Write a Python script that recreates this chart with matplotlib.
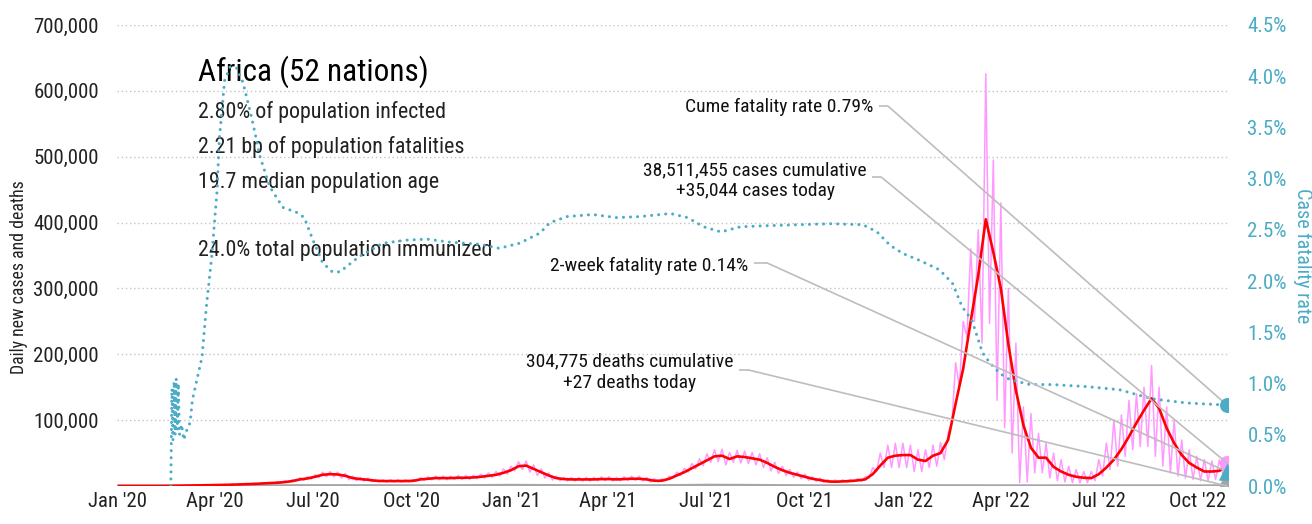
import numpy as np
import pandas as pd
import matplotlib
matplotlib.use("Agg")
import matplotlib.pyplot as plt
import matplotlib.dates as mdates
from matplotlib.ticker import FuncFormatter, MultipleLocator

plt.rcParams["font.family"] = ["Roboto Condensed", "DejaVu Sans"]
plt.rcParams["font.stretch"] = "condensed"

TEAL = "#4bacc6"
PINK = "#ff99ff"
RED = "#ff0000"
GREY = "#a6a6a6"
LINK = "#bdbdbd"

# weekly samples, Fridays, 2020-01-03 .. 2022-10-28 (thousands of cases per day)
week_start = "2020-01-03"
cases_avg = [
    0, 0, 0, 0, 0, 0, 0, 0.2, 0.4, 0.6,
    0.8, 1.0, 1.2, 1.5, 1.7, 2.0, 2.4, 2.8, 3.2, 3.8,
    4.3, 5, 6, 7.5, 10, 11.5, 14, 17, 18, 17.5,
    15.5, 12, 10.5, 9.5, 8, 7.5, 7.5, 7.5, 7.5, 7.8,
    10, 11, 12, 12, 12, 12.5, 12.5, 13, 14, 15.5,
    17, 20, 24, 30, 31, 26, 21, 16, 12, 10.5,
    10, 10, 10, 10, 10.5, 10.5, 10, 10.5, 11, 11,
    10, 8, 8, 11, 16, 21, 27, 33, 39, 45,
    46, 41, 45, 44, 42, 40, 35, 29, 24, 20,
    17, 14, 11, 9, 7, 6.5, 7, 7.5, 8.5, 10,
    18, 31, 43, 46, 47, 47, 40, 38, 46, 50,
    70, 125, 178, 250, 320, 405, 355, 300, 215, 145,
    92, 58, 43, 43, 29, 22, 17, 14, 12.5, 12,
    18, 28, 40, 56, 75, 96, 115, 133, 118, 88,
    65, 47, 35, 28, 22, 22, 23, 32,
]
cases_high = [
    0, 0, 0, 0, 0, 0, 0, 0.4, 0.7, 1.0,
    1.2, 1.5, 1.8, 2.2, 2.5, 2.8, 3.3, 3.8, 4.3, 5.0,
    5.6, 6.5, 7.8, 9.5, 12.5, 14, 17, 21, 22, 21,
    19, 15, 13, 12, 10, 9.5, 9.5, 9.5, 9.5, 10,
    13, 14, 15, 15, 15, 16, 16, 16.5, 18, 20,
    22, 26, 30, 37, 38, 32, 26, 20, 15, 13,
    13, 13, 13, 13, 14, 14, 13, 14, 15, 15,
    13, 11, 11, 15, 21, 27, 34, 41, 49, 55,
    56, 51, 54, 53, 51, 49, 43, 36, 30, 25,
    21, 18, 14, 12, 9.5, 9, 9.5, 10, 11, 14,
    28, 50, 62, 65, 65, 62, 55, 55, 62, 66,
    80, 187, 250, 360, 389, 626, 495, 430, 300, 217,
    120, 110, 80, 65, 50, 40, 30, 25, 22, 22,
    40, 65, 100, 108, 130, 140, 150, 183, 150, 120,
    100, 70, 55, 45, 40, 38, 40, 35.044,
]
cases_low = [
    0, 0, 0, 0, 0, 0, 0, 0, 0.1, 0.3,
    0.5, 0.6, 0.8, 1.0, 1.1, 1.3, 1.6, 1.9, 2.2, 2.6,
    3.0, 3.5, 4.3, 5.5, 7.5, 8.5, 10.5, 13, 14, 14,
    12, 9.5, 8, 7.5, 6.5, 6, 6, 6, 6, 6.2,
    7.5, 8.5, 9.5, 9.5, 9.5, 10, 10, 10, 11, 12,
    13, 15, 18, 23, 25, 21, 16, 12, 9, 8,
    7.5, 7.5, 7.5, 7.5, 8, 8, 7.5, 8, 8.5, 8.5,
    7.5, 6, 6, 8, 12, 16, 21, 26, 31, 36,
    37, 32, 36, 35, 34, 32, 28, 23, 19, 16,
    13, 11, 8.5, 7, 5.5, 5, 5.5, 6, 6.5, 7,
    12, 22, 28, 28, 28, 28, 22, 22, 28, 30,
    40, 95, 150, 226, 250, 217, 247, 130, 89, 50,
    5, 6, 20, 20, 12, 8, 6, 5, 5, 5,
    8, 15, 25, 30, 45, 55, 60, 60, 45, 30,
    20, 15, 12, 10, 8, 8, 10, 15,
]

death_dates = [
    "2020-01-01", "2020-03-01", "2020-04-01", "2020-05-01", "2020-06-01", "2020-07-01",
    "2020-08-01", "2020-09-01", "2020-10-01", "2020-11-01", "2020-12-01", "2021-01-01",
    "2021-02-01", "2021-03-01", "2021-04-01", "2021-05-01", "2021-06-01", "2021-07-01",
    "2021-08-01", "2021-09-01", "2021-10-01", "2021-11-01", "2021-12-01", "2022-01-01",
    "2022-02-01", "2022-03-01", "2022-04-01", "2022-05-01", "2022-06-01", "2022-07-01",
    "2022-08-01", "2022-09-01", "2022-10-01", "2022-10-28",
]
deaths = [
    0, 5, 50, 80, 200, 400, 350, 250, 180, 220, 450, 800,
    500, 300, 250, 230, 400, 950, 800, 450, 200, 120, 200, 400,
    250, 150, 60, 40, 50, 90, 80, 50, 30, 27,
]

cfr_dates = [
    "2020-02-20", "2020-02-21", "2020-02-22", "2020-02-23", "2020-02-24", "2020-02-25",
    "2020-02-26", "2020-02-27", "2020-02-28", "2020-03-01", "2020-03-03", "2020-03-06",
    "2020-03-09", "2020-03-11", "2020-03-20", "2020-03-24", "2020-03-29", "2020-04-03",
    "2020-04-05", "2020-04-10", "2020-04-15", "2020-04-21", "2020-04-27", "2020-05-05",
    "2020-05-13", "2020-05-22", "2020-06-03", "2020-06-16", "2020-06-23", "2020-07-01",
    "2020-07-10", "2020-07-19", "2020-07-26", "2020-08-01", "2020-08-13", "2020-09-04",
    "2020-09-26", "2020-10-15", "2020-11-05", "2020-12-03", "2020-12-21", "2021-01-09",
    "2021-01-28", "2021-02-06", "2021-02-22", "2021-03-18", "2021-04-09", "2021-05-01",
    "2021-05-29", "2021-06-14", "2021-06-29", "2021-07-15", "2021-08-02", "2021-08-24",
    "2021-09-24", "2021-10-25", "2021-11-24", "2021-12-07", "2021-12-19", "2021-12-31",
    "2022-01-16", "2022-02-03", "2022-02-15", "2022-02-24", "2022-03-05", "2022-03-10",
    "2022-03-15", "2022-03-22", "2022-03-31", "2022-04-09", "2022-04-28", "2022-05-19",
    "2022-06-20", "2022-07-20", "2022-08-20", "2022-09-21", "2022-10-28",
]
cfr = [
    0.0, 0.95, 0.45, 1.02, 0.5, 1.05,
    0.55, 1.0, 0.5, 0.6, 0.45, 0.55,
    0.62, 0.84, 1.26, 1.75, 2.24, 2.89,
    3.38, 3.96, 4.09, 4.08, 3.94, 3.6,
    3.21, 2.92, 2.72, 2.67, 2.62, 2.4,
    2.18, 2.09, 2.09, 2.14, 2.24, 2.37,
    2.4, 2.41, 2.38, 2.36, 2.32, 2.37,
    2.47, 2.57, 2.63, 2.65, 2.62, 2.63,
    2.66, 2.62, 2.53, 2.48, 2.53, 2.54,
    2.55, 2.56, 2.55, 2.48, 2.35, 2.27,
    2.2, 2.11, 1.98, 1.75, 1.62, 1.46,
    1.3, 1.2, 1.1, 1.04, 0.99, 0.99,
    0.97, 0.94, 0.85, 0.81, 0.79,
]

cases_total = 38511455
cases_today = 35044
deaths_total = 304775
deaths_today = 27
cfr_cume = 0.79
cfr_2wk = 0.14

region = "Africa (52 nations)"
stats = [
    "2.80% of population infected",
    "2.21 bp of population fatalities",
    "19.7 median population age",
]
immunized = "24.0% total population immunized"

weeks = pd.date_range(week_start, periods=len(cases_avg), freq="7D")
last_day = mdates.date2num(weeks[-1])

# daily reports swing around the weekly average: trough mid-week, peak on the sample day
pink_x = np.empty(2 * len(weeks), dtype="datetime64[ns]")
pink_y = np.empty(2 * len(weeks))
pink_x[0::2] = (weeks - pd.Timedelta(hours=84)).values
pink_x[1::2] = weeks.values
pink_y[0::2] = np.array(cases_low) * 1000
pink_y[1::2] = np.array(cases_high) * 1000

fig = plt.figure(figsize=(13.12, 5.24), dpi=100)
ax = fig.add_axes([117 / 1312, 38 / 524, 1111 / 1312, 461 / 524])
ax2 = ax.twinx()

ax.set_xlim(pd.Timestamp("2020-01-01"), pd.Timestamp("2022-10-29"))
ax.set_ylim(0, 700000)
ax2.set_ylim(0, 4.5)

for a in (ax, ax2):
    for s in a.spines.values():
        s.set_visible(False)
    a.tick_params(length=0)

ax.yaxis.set_major_locator(MultipleLocator(100000))
ax.yaxis.set_major_formatter(FuncFormatter(lambda v, p: "" if v == 0 else f"{v:,.0f}"))
ax.tick_params(axis="y", labelsize=15, pad=13, labelcolor="#222222")
ax.tick_params(axis="x", labelsize=15, pad=4, labelcolor="#222222")
ax.xaxis.set_major_locator(mdates.MonthLocator(bymonth=[1, 4, 7, 10]))
ax.xaxis.set_major_formatter(mdates.DateFormatter("%b '%y"))

ax2.yaxis.set_major_locator(MultipleLocator(0.5))
ax2.yaxis.set_major_formatter(FuncFormatter(lambda v, p: f"{v:.1f}%"))
ax2.tick_params(axis="y", labelsize=15, pad=14, labelcolor=TEAL)

for v in range(100000, 700001, 100000):
    ax.axhline(v, color="#c4c4c4", lw=1, ls=(0, (1, 2)), zorder=1)

ax.set_ylabel("Daily new cases and deaths", fontsize=12.8, color="#222222")
ax.yaxis.set_label_coords(-0.08, 0.453)
ax2.set_ylabel("Case fatality rate", fontsize=14.5, color=TEAL, rotation=270, va="center")
ax2.yaxis.set_label_coords(1.0675, 0.499)

ax.plot(pd.to_datetime(death_dates), deaths, color=GREY, lw=2.4, zorder=2)
ax.plot(pink_x, pink_y, color=PINK, lw=1.1, zorder=3)
ax.plot(weeks, np.array(cases_avg) * 1000, color=RED, lw=1.9, zorder=4)
ax2.plot(pd.to_datetime(cfr_dates), cfr, color=TEAL, lw=2.2, ls=(0, (0.01, 2.3)),
         dash_capstyle="round", zorder=3)

# end-of-series markers
ax.scatter([last_day], [cases_today], s=100, color=PINK, zorder=6)
ax.scatter([last_day], [deaths_today], s=95, color=GREY, zorder=6)
ax2.scatter([last_day], [cfr_cume], s=95, color=TEAL, zorder=6)
ax2.scatter([last_day], [cfr_2wk], s=120, marker="^", color=TEAL, zorder=7)

# summary block
ax.text(0.073, 0.898, region, transform=ax.transAxes, fontsize=22.5, color="#000000",
        va="center", ha="left")
for k, line in enumerate(stats):
    ax.text(0.073, 0.811 - 0.076 * k, line, transform=ax.transAxes, fontsize=15.8,
            color="#222222", va="center", ha="left")
ax.text(0.073, 0.51, immunized, transform=ax.transAxes, fontsize=15.8,
        color="#222222", va="center", ha="left")


def callout(label, tx, ty, sy, stub, target, target_ax):
    ax.text(tx, ty, label, transform=ax.transAxes, fontsize=14, color="#111111",
            ha="right", va="center", multialignment="center", zorder=8)
    x0 = tx + 0.005
    x1 = x0 + stub
    ax.plot([x0, x1], [sy, sy], transform=ax.transAxes, color=LINK, lw=1.2,
            solid_capstyle="butt", zorder=5)
    ax2.annotate("", xy=target, xycoords=target_ax.transData,
                 xytext=(x1, sy), textcoords=ax.transAxes,
                 arrowprops=dict(arrowstyle="-", color=LINK, lw=1.2,
                                 shrinkA=0, shrinkB=0), zorder=5)


callout(f"Cume fatality rate {cfr_cume:.2f}%", 0.681, 0.822, 0.824, 0.008,
        (last_day, cfr_cume), ax2)
callout(f"{cases_total:,} cases cumulative\n+{cases_today:,} cases today",
        0.675, 0.663, 0.670, 0.008, (last_day, cases_today), ax)
callout(f"2-week fatality rate {cfr_2wk:.2f}%", 0.568, 0.477, 0.484, 0.012,
        (last_day, cfr_2wk), ax2)
callout(f"{deaths_total:,} deaths cumulative\n+{deaths_today} deaths today",
        0.5545, 0.247, 0.2516, 0.009, (last_day, deaths_today), ax)

fig.savefig("out.png", dpi=100)
